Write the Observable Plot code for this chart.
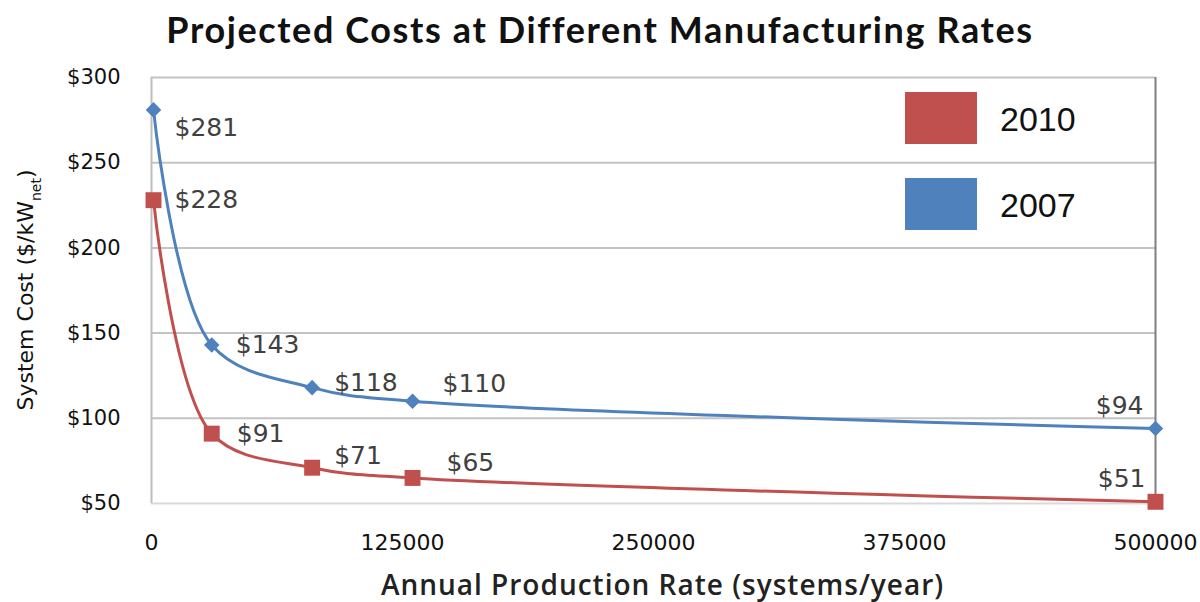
<!DOCTYPE html>
<html>
<head>
<meta charset="utf-8">
<script src="https://cdn.jsdelivr.net/npm/d3@7"></script>
<script src="https://cdn.jsdelivr.net/npm/@observablehq/plot@0.6"></script>
<style>
  html, body { margin: 0; padding: 0; background: #fff; }
  #wrap { position: relative; width: 1200px; height: 602px; overflow: hidden; }
  #title { height: 50px; line-height: 58px; text-align: center; font-family: Lato, "Open Sans", sans-serif; font-weight: bold; font-size: 36px; letter-spacing: 1.6px; color: #111; width: 1200px; }
  .leg { position: absolute; left: 905px; width: 72px; height: 52px; }
  .legt { position: absolute; left: 1000px; font-family: "Liberation Sans", Arial, sans-serif; font-size: 34px; color: #111; line-height: 34px; }
</style>
</head>
<body>
<div id="wrap">
  <div id="title">Projected Costs at Different Manufacturing Rates</div>
  <div id="chart"></div>
</div>
<script>
// ---- data ----
const rates = [1000, 30000, 80000, 130000, 500000];
const cost2007 = [281, 143, 118, 110, 94];
const cost2010 = [228, 91, 71, 65, 51];
const seriesNames = ["2010", "2007"];
const yTicks = [50, 100, 150, 200, 250, 300];
const xTicks = [0, 125000, 250000, 375000, 500000];

// ---- styling ----
const blue = "#4f81bd";
const red = "#c0504d";
// label offsets (dx, dy, anchor) per point, style only
const off2007 = [[21, 18, "start"], [24, 0, "start"], [22, -5, "start"], [30, -17, "start"], [-12, -23, "end"]];
const off2010 = [[21, 0, "start"], [25, 0, "start"], [22, -12, "start"], [34, -15, "start"], [-10, -23, "end"]];

const d2007 = rates.map((r, i) => ({rate: r, cost: cost2007[i], i}));
const d2010 = rates.map((r, i) => ({rate: r, cost: cost2010[i], i}));

function labelMarks(data, offs) {
  return data.map((d, i) => Plot.text([d], {
    x: "rate", y: "cost", text: v => "$" + v.cost,
    dx: offs[i][0], dy: offs[i][1], textAnchor: offs[i][2],
    fill: "#404040", fontSize: 25, fontFamily: "DejaVu Sans"
  }));
}

const chart = Plot.plot({
  width: 1200,
  height: 552,
  marginTop: 27,
  marginBottom: 99,
  marginLeft: 151,
  marginRight: 45,
  style: {fontFamily: "DejaVu Sans", background: "#fff", color: "#111"},
  x: {domain: [0, 500000]},
  y: {domain: [50, 300]},
  marks: [
    Plot.ruleY(yTicks.filter(t => t > 50), {y: d => d, stroke: "#c3c3c3", strokeWidth: 2}),
    Plot.ruleY([50], {stroke: "#d9d9d9", strokeWidth: 2}),
    Plot.ruleX([0], {stroke: "#bdbdbd", strokeWidth: 2}),
    Plot.ruleX([500000], {stroke: "#7f7f7f", strokeWidth: 2}),
    Plot.axisY({ticks: yTicks, tickFormat: d => "$" + d, tickSize: 0, tickPadding: 31, fontSize: 21, label: null, fill: "#111"}),
    Plot.axisX({ticks: xTicks, tickFormat: d => String(d), tickSize: 0, tickPadding: 31, fontSize: 22, label: null, fill: "#111"}),
    Plot.line(d2007, {x: "rate", y: "cost", stroke: blue, strokeWidth: 3, curve: "catmull-rom"}),
    Plot.line(d2010, {x: "rate", y: "cost", stroke: red, strokeWidth: 3, curve: "catmull-rom"}),
    Plot.dot(d2007, {x: "rate", y: "cost", symbol: "diamond2", r: 7, fill: blue, stroke: null}),
    Plot.dot(d2010, {x: "rate", y: "cost", symbol: "square", r: 9, fill: red, stroke: null}),
    ...labelMarks(d2007, off2007),
    ...labelMarks(d2010, off2010),
    Plot.text(["Annual Production Rate (systems/year)"], {
      frameAnchor: "bottom", dy: 91, dx: 9, text: d => d, fontSize: 28, fontWeight: 600,
      fontFamily: "Open Sans", fill: "#222"
    })
  ]
});
document.getElementById("chart").appendChild(chart);
d3.select(chart).selectAll("text").filter(function() { return this.textContent === "Annual Production Rate (systems/year)"; }).attr("letter-spacing", 1);

// y axis title with subscript
const svg = d3.select(chart);
const yl = svg.append("text")
  .attr("transform", "translate(33,240) rotate(-90)")
  .attr("text-anchor", "middle")
  .attr("font-family", "DejaVu Sans")
  .attr("font-size", 22)
  .attr("fill", "#111");
yl.append("tspan").text("System Cost ($/kW");
yl.append("tspan").attr("baseline-shift", "sub").attr("font-size", 14).text("net");
yl.append("tspan").text(")");

// legend
const wrap = document.getElementById("wrap");
const legColors = [red, blue];
const legTops = [92, 178];
seriesNames.forEach((n, i) => {
  const sw = document.createElement("div");
  sw.className = "leg";
  sw.style.top = legTops[i] + "px";
  sw.style.background = legColors[i];
  wrap.appendChild(sw);
  const t = document.createElement("div");
  t.className = "legt";
  t.style.top = (legTops[i] + 10) + "px";
  t.textContent = n;
  wrap.appendChild(t);
});
</script>
</body>
</html>
